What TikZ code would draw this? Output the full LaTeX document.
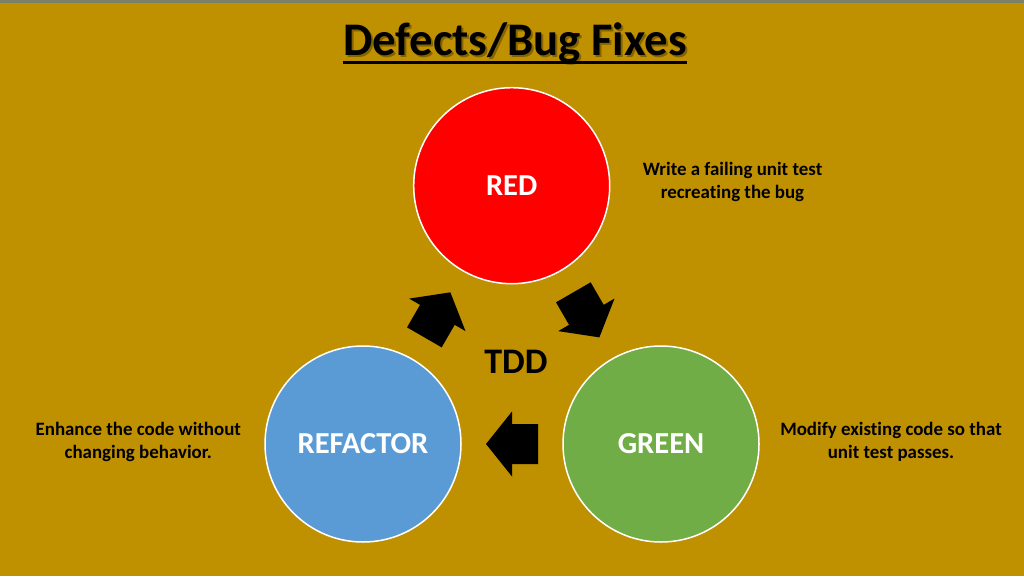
\documentclass[tikz,border=0pt]{standalone}
\usepackage{fontspec}
\setmainfont[Ligatures=NoCommon]{Carlito}
\usetikzlibrary{calc}
\definecolor{bgc}{HTML}{BF9000}
\definecolor{bandc}{HTML}{7C8068}
\definecolor{redc}{HTML}{FF0000}
\definecolor{greenc}{HTML}{70AD47}
\definecolor{bluec}{HTML}{5B9BD5}
\tikzset{
  phase/.style={circle, draw=white, line width=1.5pt, minimum size=196pt, inner sep=0pt,
    text=white, font=\fontsize{30.5}{32}\selectfont\bfseries},
  note/.style={font=\fontsize{18.9}{23.3}\selectfont\bfseries, align=center, inner sep=0pt, anchor=base},
  titlefont/.style={font=\fontsize{46.7}{50}\selectfont\bfseries, inner sep=0pt, anchor=base},
  barrow/.pic={\fill[black] (-26,-20) -- (0,-20) -- (0,-32.5) -- (26,0) -- (0,32.5) -- (0,20) -- (-26,20) -- cycle;}
}
\begin{document}
\begin{tikzpicture}[x=1pt,y=-1pt]
\useasboundingbox (0,0) rectangle (1024,576);
\fill[bgc] (0,0) rectangle (1024,576);
\fill[bandc] (0,0) rectangle (1024,2.5);
% title
\node[titlefont, text=black, opacity=0.3] at (517,57) {Defects/Bug Fixes};
\node[titlefont] (title) at (515,55) {Defects/Bug Fixes};
\draw[line width=3pt] ([yshift=-7.5pt]title.base west) -- ([yshift=-7.5pt]title.base east);
% circles
\node[phase, fill=redc] (red) at (511.7,185.7) {RED};
\node[phase, fill=greenc] (green) at (661,444) {GREEN};
\node[phase, fill=bluec] (refactor) at (363,444) {REFACTOR};
% centre label
\node[font=\fontsize{36}{40}\selectfont\bfseries, inner sep=0pt] (tdd) at (516,361.7) {TDD};
% cycle arrows
\pic[rotate=60] at ($(refactor)!0.5!(red)$) {barrow};
\pic[rotate=-60] at ($(red)!0.5!(green)$) {barrow};
\pic[rotate=180] at ($(green)!0.5!(refactor)$) {barrow};
% notes (base anchor = baseline of the last line)
\node[note] (nred) at (732.5,198.3) {Write a failing unit test\\recreating the bug};
\node[note] (nref) at (138.3,458.3) {Enhance the code without\\changing behavior.};
\node[note] (ngreen) at (891,458.3) {Modify existing code so that\\unit test passes.};
\end{tikzpicture}
\end{document}
